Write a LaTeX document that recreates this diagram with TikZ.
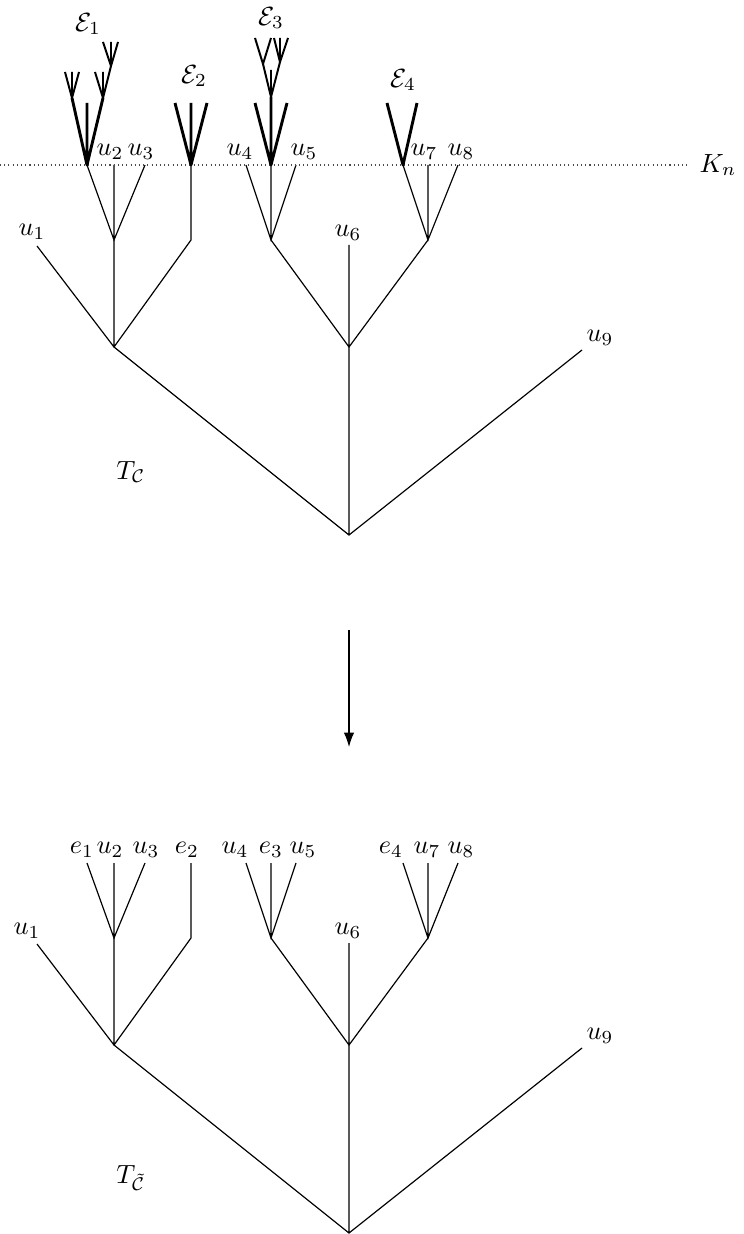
\documentclass[tikz,border=0pt]{standalone}
\usepackage{amsmath}
\usetikzlibrary{arrows.meta}
\begin{document}
\begin{tikzpicture}[x=0.38pt,y=-0.38pt,
  br/.style={line width=0.45pt},
  fat/.style={line width=1.1pt,line join=round},
  twig/.style={line width=0.75pt,line join=round},
  cut/.style={dash pattern=on 0.4pt off 1.2pt,line width=0.45pt,black!70},
  lab/.style={inner sep=0pt}]
  \useasboundingbox (0,0) rectangle (743,1234);
  % the two trees, T_C on top and T_tildeC below
  \foreach \t/\dy in {t/0,b/698} {
    \coordinate (\t r) at (349,{535+\dy});
    \coordinate (\t a) at (114,{347+\dy});
    \coordinate (\t m) at (349,{347+\dy});
    \coordinate (\t c) at (114,{240+\dy});
    \coordinate (\t g) at (191,{240+\dy});
    \coordinate (\t d) at (271,{240+\dy});
    \coordinate (\t f) at (428,{240+\dy});
    \foreach \n/\x/\y in {1/37/246,2/87/165,3/114/165,4/145/165,5/191/165,
        6/246/165,7/271/165,8/296/165,9/349/245,10/403/165,11/428/165,
        12/458/165,13/582/350}
      \coordinate (\t l\n) at (\x,{\y+\dy});
    \draw[br] (\t a) -- (\t r) -- (\t l13) (\t r) -- (\t m);
    \draw[br] (\t l1) -- (\t a) -- (\t g) -- (\t l5) (\t a) -- (\t c);
    \draw[br] (\t l2) -- (\t c) -- (\t l4) (\t c) -- (\t l3);
    \draw[br] (\t d) -- (\t m) -- (\t f) (\t m) -- (\t l9);
    \draw[br] (\t l6) -- (\t d) -- (\t l8) (\t d) -- (\t l7);
    \draw[br] (\t l10) -- (\t f) -- (\t l12) (\t f) -- (\t l11);
  }
  % leaf labels
  \foreach \i/\x/\y in {1/32/232,2/110/152,3/141/152,4/240/152,5/304/152,
      6/348/233,7/424/152,8/461/152,9/600/338}
    \node[lab] (tu\i) at (\x,\y) {$u_\i$};
  \foreach \i/\x/\y in {1/27/931,2/110/850,3/146/850,4/235/850,5/303/850,
      6/348/931,7/427/850,8/461/850,9/600/1036}
    \node[lab] (bu\i) at (\x,\y) {$u_\i$};
  \foreach \i/\x in {1/82,2/187,3/271,4/391}
    \node[lab] (be\i) at (\x,850) {$e_\i$};
  % the level K_n
  \coordinate (k0) at (0,165);
  \coordinate (k1) at (690,165);
  \draw[cut] (k0) -- (k1);
  \node[lab] (kn) at (718,165) {$K_n$};
  % the pieces E_1..E_4 hanging over K_n
  \foreach \n/\x/\y in {e1p/72/98,e1v/87/103,e1q/103/98,e1s/111/66,
      e1p1/65/72,e1p2/72/72,e1p3/79/72,e1q1/95/72,e1q2/103/72,
      e1s1/103/42,e1s2/111/42,e1s3/118/42,
      e2a/175/103,e2b/191/103,e2c/207/103,
      e3a/255/103,e3n/271/97,e3c/287/103,e3v/271/70,e3l/263/64,e3r/280/62,
      e3l1/255/38,e3l2/271/38,e3r1/274/38,e3r2/280/38,e3r3/288/38,
      e4a/387/103,e4b/417/103}
    \coordinate (\n) at (\x,\y);
  \draw[fat] (e1p) -- (tl2) -- (e1q) (tl2) -- (e1v);
  \draw[twig] (e1p1) -- (e1p) -- (e1p3) (e1p) -- (e1p2);
  \draw[twig] (e1q1) -- (e1q) -- (e1s) (e1q) -- (e1q2);
  \draw[twig] (e1s1) -- (e1s) -- (e1s3) (e1s) -- (e1s2);
  \draw[fat] (e2a) -- (tl5) -- (e2c) (tl5) -- (e2b);
  \draw[fat] (e3a) -- (tl7) -- (e3c) (tl7) -- (e3n);
  \draw[twig] (e3l) -- (e3n) -- (e3r) (e3n) -- (e3v);
  \draw[twig] (e3l1) -- (e3l) -- (e3l2);
  \draw[twig] (e3r1) -- (e3r) -- (e3r3) (e3r) -- (e3r2);
  \draw[fat] (e4a) -- (tl10) -- (e4b);
  \node[lab] (E1) at (88,24) {$\mathcal{E}_1$};
  \node[lab] (E2) at (194,76) {$\mathcal{E}_2$};
  \node[lab] (E3) at (271,18) {$\mathcal{E}_3$};
  \node[lab] (E4) at (403,80) {$\mathcal{E}_4$};
  % tree names and the map between them
  \node[lab] (TC) at (131,472) {$T_{\mathcal{C}}$};
  \node[lab] (TtC) at (131,1178) {$T_{\tilde{\mathcal{C}}}$};
  \coordinate (ar0) at (349,630);
  \coordinate (ar1) at (349,747);
  \draw[br,-{Latex[length=5.5pt,width=4pt]}] (ar0) -- (ar1);
\end{tikzpicture}
\end{document}
